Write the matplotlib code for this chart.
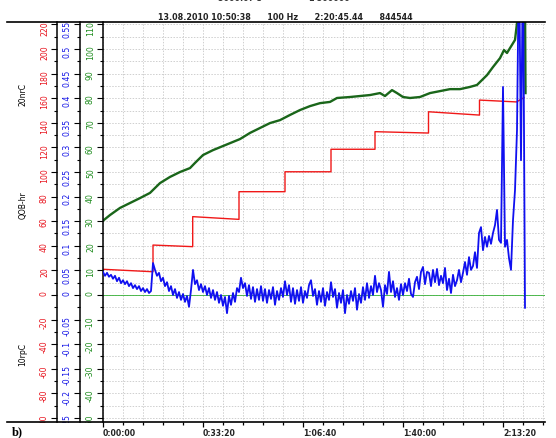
import numpy as np
import matplotlib.pyplot as plt
from matplotlib.lines import Line2D
from matplotlib.ticker import MultipleLocator
from matplotlib.transforms import Bbox, TransformedBbox

# Time axis in seconds, three scales on the left.
red_t = [0, 1000, 1000, 1794, 1794, 2720, 2720, 3640, 3640, 4560, 4560,
         5440, 5440, 6510, 6510, 7530, 7530, 8270, 8420]
red_v = [20.9, 18.9, 40.6, 39.3, 63.7, 61.5, 84.0, 84.0, 100.2, 100.2, 118.5,
         118.5, 132.8, 131.7, 149.0, 146.3, 158.5, 157.0, 160.5]

green_t = [0, 140, 340, 540, 740, 940, 1000, 1140, 1340, 1540, 1740, 1840, 2000,
           2200, 2740, 2940, 3140, 3340, 3540, 3740, 3940, 4140, 4340, 4540,
           4680, 4940, 5140, 5340, 5540, 5640, 5780, 5880, 6000, 6140, 6340,
           6540, 6740, 6940, 7140, 7340, 7480, 7580, 7680, 7800, 7940, 8020,
           8080, 8140, 8240, 8280, 8320, 8440, 8450]
green_v = [30.2, 32.5, 35.4, 37.4, 39.4, 41.5, 42.7, 45.5, 48.0, 50.0, 51.6, 53.7,
           56.9, 58.9, 63.4, 65.9, 67.9, 69.9, 71.1, 73.2, 75.2, 76.8, 78.0,
           78.5, 80.1, 80.5, 80.9, 81.3, 82.1, 80.9, 83.3, 82.1, 80.5, 80.1,
           80.5, 82.1, 82.9, 83.7, 83.7, 84.6, 85.4, 87.4, 89.4, 92.7, 96.3,
           99.6, 98.4, 100.4, 103.7, 110.6, 120.0, 120.0, 82.1]

# blue sampled every 40 s
blue_dt = 40
blue_v = [
    0.047, 0.039, 0.045, 0.037, 0.041, 0.033, 0.039, 0.028, 0.035, 0.024,
    0.030, 0.022, 0.028, 0.018, 0.024, 0.014, 0.020, 0.012, 0.018, 0.008,
    0.014, 0.006, 0.012, 0.004, 0.008, 0.065, 0.051, 0.039, 0.045, 0.028,
    0.035, 0.018, 0.026, 0.008, 0.018, 0.000, 0.012, -0.006, 0.006, -0.010,
    0.002, -0.014, -0.002, -0.024, 0.010, 0.051, 0.022, 0.030, 0.010, 0.022,
    0.006, 0.018, 0.000, 0.014, -0.006, 0.010, -0.010, 0.006, -0.016, 0.000,
    -0.022, -0.004, -0.037, -0.002, -0.020, 0.004, -0.014, 0.014, 0.006, 0.035,
    0.014, 0.024, -0.002, 0.020, -0.008, 0.016, -0.014, 0.012, -0.010, 0.018,
    -0.012, 0.012, -0.016, 0.010, -0.008, 0.016, -0.020, 0.008, -0.010, 0.014,
    -0.004, 0.028, 0.000, 0.020, -0.014, 0.014, -0.018, 0.010, -0.012, 0.016,
    -0.016, 0.008, -0.006, 0.020, 0.030, -0.002, 0.012, -0.020, 0.008, -0.014,
    0.014, -0.022, 0.006, -0.010, 0.026, -0.004, 0.012, -0.026, 0.004, -0.016,
    0.010, -0.037, 0.000, -0.018, 0.008, -0.012, 0.014, -0.030, 0.002, -0.016,
    0.016, -0.010, 0.024, -0.006, 0.018, 0.000, 0.039, 0.006, 0.024, 0.010,
    -0.024, 0.020, 0.002, 0.047, 0.006, 0.028, -0.004, 0.014, -0.010, 0.022,
    0.000, 0.024, 0.008, 0.033, 0.002, -0.004, 0.026, 0.037, 0.012, 0.047,
    0.057, 0.022, 0.047, 0.045, 0.018, 0.051, 0.026, 0.053, 0.020, 0.039,
    0.024, 0.055, 0.010, 0.033, 0.004, 0.041, 0.018, 0.030, 0.051, 0.026,
    0.045, 0.067, 0.041, 0.077, 0.051, 0.059, 0.087, 0.055, 0.126, 0.138,
    0.091, 0.118, 0.098, 0.120, 0.104, 0.126, 0.142, 0.173, 0.112, 0.106,
    0.423, 0.098, 0.112, 0.075, 0.051, 0.152, 0.213, 0.335, 0.700, 0.274,
    0.700, -0.026]

red_ticks = list(range(-100, 221, 20))
blue_ticks = [-0.25, -0.2, -0.15, -0.1, -0.05, 0, 0.05, 0.1, 0.15, 0.2, 0.25,
              0.3, 0.35, 0.4, 0.45, 0.5, 0.55]
green_ticks = list(range(-50, 111, 10))
x_major = [0, 2000, 4000, 6000, 8000]

header = "13.08.2010 10:50:38      100 Hz      2:20:45.44      844544"

RED, BLUE, GREEN, DKGREEN = '#e8141e', '#1414e6', '#1e8c1e', '#1a661a'

W, H = 556, 438
fig = plt.figure(figsize=(W / 100, H / 100), dpi=100)
pos = [103 / W, 1 - 422 / H, 442 / W, 400 / H]

ax_r = fig.add_axes(pos)
ax_g = fig.add_axes(pos, sharex=ax_r)
ax_b = fig.add_axes(pos, sharex=ax_r)

red_lim = (-103.3, 222.0)
ax_r.set_ylim(*red_lim)
ax_g.set_ylim(red_lim[0] / 2, red_lim[1] / 2)
ax_b.set_ylim(red_lim[0] / 400, red_lim[1] / 400)
ax_r.set_xlim(0, 8840)

# grid
ax_r.xaxis.set_minor_locator(MultipleLocator(400))
ax_r.yaxis.set_minor_locator(MultipleLocator(10))
ax_r.grid(True, which='both', color='#cfcfcf', linestyle=(0, (1.5, 1.5)), lw=0.7)

label_clip = TransformedBbox(Bbox([[0, 1 - 423 / H], [1, 1 - 21 / H]]), fig.transFigure)


def style_axis(ax, offset_px, ticks, labels, color, minor):
    for side in ['top', 'right', 'bottom']:
        ax.spines[side].set_visible(False)
    ax.spines['left'].set_position(('outward', offset_px * 0.72))
    ax.spines['left'].set_linewidth(1.1)
    ax.patch.set_visible(False)
    ax.set_yticks(ticks, labels=labels, rotation=90, color=color, fontsize=5.6,
                  clip_on=True, clip_box=label_clip)
    ax.yaxis.set_minor_locator(MultipleLocator(minor))
    ax.tick_params(axis='y', which='major', length=4.3, width=0.8, pad=1.5)
    ax.tick_params(axis='y', which='minor', length=2.2, width=0.8)


style_axis(ax_r, 46, red_ticks, [str(v) for v in red_ticks], RED, 10)
style_axis(ax_b, 23, blue_ticks, [f"{v:g}" for v in blue_ticks], BLUE, 0.025)
style_axis(ax_g, 0, green_ticks, [str(v) for v in green_ticks], GREEN, 5)
ax_r.patch.set_visible(True)
ax_b.tick_params(axis='x', which='both', bottom=False, labelbottom=False)
ax_g.tick_params(axis='x', which='both', bottom=False, labelbottom=False)


def hms(t):
    t = int(t)
    return f"{t // 3600}:{t % 3600 // 60:02d}:{t % 60:02d}"


ax_r.set_xticks(x_major, labels=[hms(t) for t in x_major], ha='left',
                fontsize=5.6, fontweight='bold', color='#222222')
ax_r.tick_params(axis='x', which='major', length=3.5, width=0.9, pad=1.5)
ax_r.tick_params(axis='x', which='minor', length=2.2, width=0.9)

# data
ax_r.plot(red_t, red_v, color='#f01818', lw=1.0)
ax_g.axhline(0, color='#34b034', lw=0.6)
ax_g.plot(green_t, green_v, color=DKGREEN, lw=1.7)
blue_t = np.arange(len(blue_v)) * blue_dt
ax_b.plot(blue_t, blue_v, color='#1010f0', lw=1.3)

# frame lines across the full width
for yy in (22, 422):
    fig.add_artist(Line2D([7 / W, 545 / W], [1 - yy / H] * 2, color='black',
                          lw=1.2, transform=fig.transFigure))

# unit labels
for txt, yy in [("20nrC", 95), ("QOB-hr", 205), ("10rpC", 355)]:
    fig.text(23 / W, 1 - yy / H, txt, rotation=90, fontsize=5.5,
             ha='center', va='center')

fig.text(158 / W, 1 - 17 / H, header, fontsize=5.8, fontweight='bold',
         ha='left', va='center', color='#222222')
fig.text(218 / W, 1 + 1 / H, "5000.07 s", fontsize=5.8, fontweight='bold',
         ha='left', va='center', color='#333333')
fig.text(308 / W, 1 + 1 / H, "1-500000", fontsize=5.8, fontweight='bold',
         ha='left', va='center', color='#333333')
fig.text(12 / W, 1 - 432 / H, "b)", fontsize=9, fontweight='bold',
         family='Liberation Serif', ha='left', va='center')

fig.savefig('out.png', dpi=100)
